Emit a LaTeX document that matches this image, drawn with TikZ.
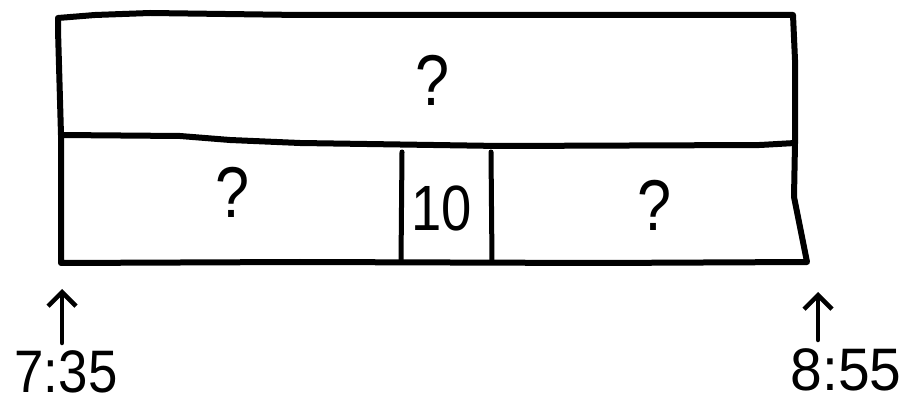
\documentclass[tikz,border=0pt]{standalone}
\usepackage{fontspec}
\usepackage{graphicx}
\setmainfont{Liberation Sans}
\usetikzlibrary{arrows.meta}
\newcommand{\narrow}[1]{\scalebox{0.85}[1]{#1}}
\begin{document}
\begin{tikzpicture}[x=1pt,y=-1pt,
  pen/.style={line width=6pt,line cap=round,line join=round},
  thin pen/.style={line width=5pt,line cap=round},
  qmark/.style={font=\fontsize{72}{72}\selectfont,inner sep=1pt},
  tenlbl/.style={font=\fontsize{64}{64}\selectfont,inner sep=1pt},
  timelbl/.style={font=\fontsize{60}{60}\selectfont,anchor=base,inner sep=0pt},
  uparrow/.style={line width=4.5pt,line cap=round,-{Straight Barb[length=14pt,width=28pt,line width=4.5pt]}}]
\useasboundingbox (0,0) rectangle (918,403);
% corners
\coordinate (tl) at (58,18);
\coordinate (tr) at (793,15);
\coordinate (ml) at (61,135);
\coordinate (mr) at (795,143);
\coordinate (bl) at (61,263);
\coordinate (br) at (807,262);
% top box
\draw[pen] (ml) -- (60,100) -- (58,30) -- (tl) -- (95,15) -- (150,13) -- (300,15) -- (tr) -- (795,60) -- (mr);
% middle wavy line
\draw[pen] (ml) -- (180,136) -- (230,140) -- (300,143) -- (500,146) -- (760,145) -- (mr);
% bottom row
\draw[pen] (ml) -- (bl) -- (300,262) -- (600,263) -- (br) -- (794,197) -- (mr);
% dividers
\coordinate (d1t) at (402,152);
\coordinate (d1b) at (401,262);
\coordinate (d2t) at (491,152);
\coordinate (d2b) at (492,262);
\draw[thin pen] (d1t) -- (d1b);
\draw[thin pen] (d2t) -- (d2b);
% labels
\node[qmark] (q1) at (433,80) {\narrow{?}};
\node[qmark] (q2) at (233,192) {\narrow{?}};
\node[tenlbl] (ten) at (442,208) {\narrow{10}};
\node[qmark] (q3) at (655,205) {\narrow{?}};
% times
\node[timelbl] (t1) at (66,392) {\scalebox{0.88}[1]{7:35}};
\node[timelbl] (t2) at (846,390) {\scalebox{0.95}[1]{8:55}};
\coordinate (a1) at (62,289);
\coordinate (a2) at (818,292);
\draw[uparrow] (62,343) -- (a1);
\draw[uparrow] (818,340) -- (a2);
\end{tikzpicture}
\end{document}
